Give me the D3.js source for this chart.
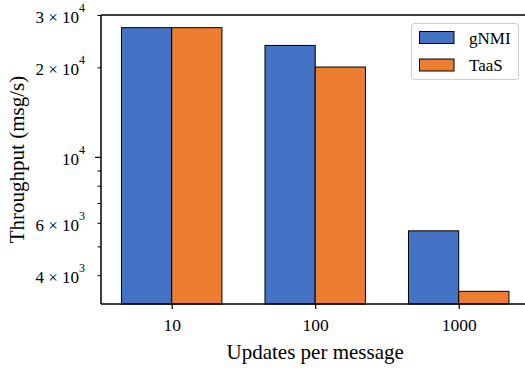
<!DOCTYPE html>
<html><head><meta charset="utf-8">
<script src="https://cdn.jsdelivr.net/npm/d3@7"></script>
<style>body{margin:0;background:#fff}svg{display:block}text{font-family:"Liberation Serif","DejaVu Serif",serif;fill:#000}</style>
</head><body>
<svg id="c" width="525" height="371"></svg>
<script>
const categories = ["10", "100", "1000"];
const seriesNames = ["gNMI", "TaaS"];
const gnmi = [27200, 23700, 5640];
const taas = [27200, 20050, 3530];
const colors = ["#4472C4", "#ED7D31"];
const majorTicks = [10000];
const minorLabeled = [[30000, "3", "4"], [20000, "2", "4"], [6000, "6", "3"], [4000, "4", "3"]];
const minorUnlabeled = [9000, 8000, 7000, 5000];

const svg = d3.select("#c");
const L = 101, T = 15, B = 304;
const x = d3.scaleLinear().domain([-0.4927, 2.5]).range([L, L + 2.9927 * 143.5]);
const y = d3.scaleLog().domain([3200, 30000]).range([B, T]);
const bw = 0.35;
const series = [gnmi, taas];

const g = svg.append("g");
series.forEach((vals, si) => {
  g.selectAll(null).data(vals).enter().append("rect")
    .attr("x", (d, i) => x(i + (si === 0 ? -bw : 0)))
    .attr("width", x(bw) - x(0))
    .attr("y", d => y(d))
    .attr("height", d => B - y(d))
    .attr("fill", colors[si])
    .attr("stroke", "#000").attr("stroke-width", 1);
});

// spines
svg.append("line").attr("x1", L).attr("x2", L).attr("y1", T).attr("y2", B).attr("stroke", "#000").attr("stroke-width", 1.5);
svg.append("line").attr("x1", L).attr("x2", 530).attr("y1", B).attr("y2", B).attr("stroke", "#000").attr("stroke-width", 1.5);
svg.append("line").attr("x1", L).attr("x2", 530).attr("y1", T).attr("y2", T).attr("stroke", "#000").attr("stroke-width", 1.5);

// x axis
const xa = svg.append("g").attr("transform", `translate(0,${B})`)
  .call(d3.axisBottom(x).tickValues([0, 1, 2]).tickFormat(i => categories[i]).tickSize(5).tickPadding(10));
xa.select(".domain").remove();
xa.selectAll("line").attr("stroke", "#000").attr("stroke-width", 1.2);
xa.selectAll("text").attr("font-size", 17.5).attr("font-family", "Liberation Serif");

// y axis
const ya = svg.append("g").attr("transform", `translate(${L},0)`)
  .call(d3.axisLeft(y).tickValues(majorTicks).tickSize(6).tickFormat(() => ""));
ya.select(".domain").remove();
ya.selectAll("line").attr("stroke", "#000").attr("stroke-width", 1.2);
const ym = svg.append("g").attr("transform", `translate(${L},0)`)
  .call(d3.axisLeft(y).tickValues(minorUnlabeled.concat(minorLabeled.map(d => d[0]))).tickSize(3.5).tickFormat(() => ""));
ym.select(".domain").remove();
ym.selectAll("line").attr("stroke", "#000").attr("stroke-width", 1);

function supLabel(yy, base, exp) {
  const t = svg.append("text").attr("x", 85).attr("y", yy + 8).attr("text-anchor", "end").attr("font-size", 17);
  t.append("tspan").text(base);
  t.append("tspan").attr("dy", -11).attr("font-size", 12).text(exp);
}
majorTicks.forEach(v => supLabel(y(v), "10", "4"));
minorLabeled.forEach(d => supLabel(y(d[0]), d[1] + " \u00d7 10", d[2]));

// axis titles
svg.append("text").attr("x", x(1)).attr("y", 358.5).attr("text-anchor", "middle").attr("font-size", 21).text("Updates per message");
svg.append("text").attr("transform", `translate(24,${(T + B) / 2}) rotate(-90)`).attr("text-anchor", "middle").attr("font-size", 21).text("Throughput (msg/s)");

// legend
const lg = svg.append("g");
lg.append("rect").attr("x", 411.5).attr("y", 23.5).attr("width", 107).attr("height", 56).attr("rx", 3)
  .attr("fill", "#fff").attr("stroke", "#ccc").attr("stroke-width", 1);
seriesNames.forEach((n, i) => {
  const yy = 31.5 + i * 27.5;
  lg.append("rect").attr("x", 419.5).attr("y", yy).attr("width", 34.5).attr("height", 12)
    .attr("fill", colors[i]).attr("stroke", "#000").attr("stroke-width", 1);
  lg.append("text").attr("x", 469).attr("y", yy + 12).attr("font-size", 17).text(n);
});
</script>
</body></html>
